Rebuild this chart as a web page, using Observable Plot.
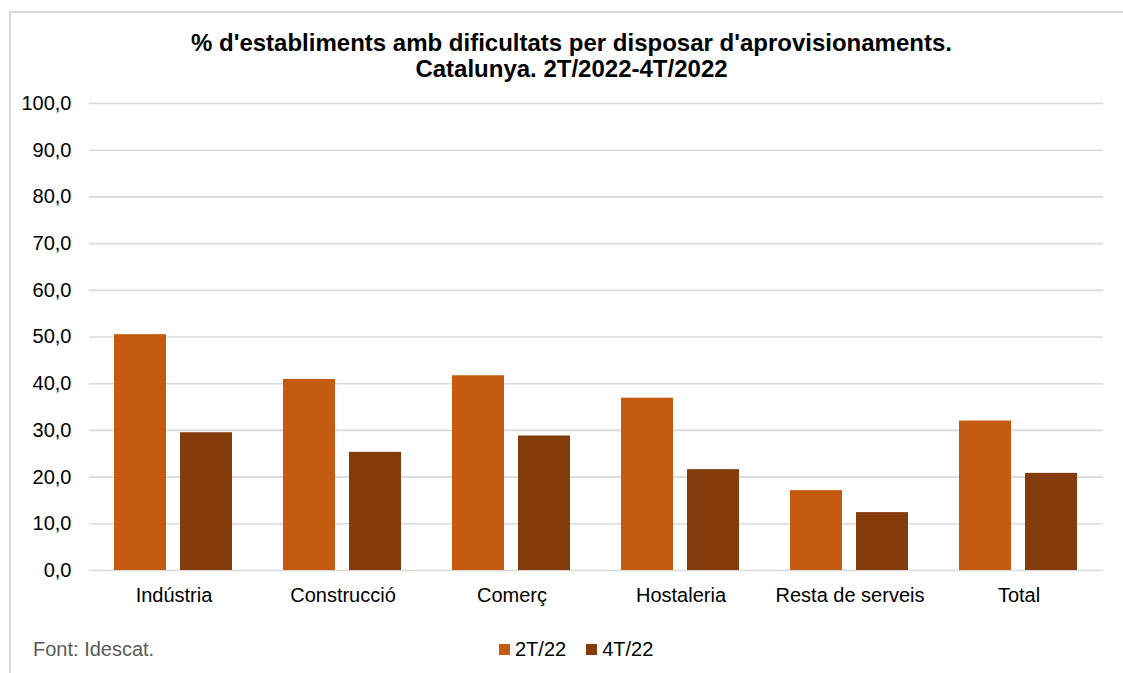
<!DOCTYPE html>
<html>
<head>
<meta charset="utf-8">
<script src="https://cdn.jsdelivr.net/npm/d3@7"></script>
<script src="https://cdn.jsdelivr.net/npm/@observablehq/plot@0.6"></script>
<style>
  html, body { margin: 0; padding: 0; background: #fff; }
  body { width: 1123px; height: 673px; overflow: hidden; position: relative; font-family: "Liberation Sans", Arial, sans-serif; }
  #frame { position: absolute; left: 9px; top: 11px; width: 1130px; height: 680px; border: 2px solid #d9d9d9; box-sizing: border-box; }
  #title { position: absolute; left: 0; width: 1143px; top: 30px; text-align: center; font-weight: bold; font-size: 24px; line-height: 26px; color: #000; }
  #chart { position: absolute; left: -2px; top: 90px; }
  #source { position: absolute; left: 33px; top: 639px; font-size: 20px; line-height: 20px; color: #595959; }
  #legend { position: absolute; left: 499px; top: 639px; font-size: 20px; line-height: 20px; color: #000; display: flex; align-items: center; }
  #legend span.sw { display: inline-block; width: 11px; height: 11px; margin-right: 5px; }
  #legend span.item { display: inline-flex; align-items: center; margin-right: 20px; }
</style>
</head>
<body>
<div id="frame"></div>
<div id="title">% d'establiments amb dificultats per disposar d'aprovisionaments.<br>Catalunya. 2T/2022-4T/2022</div>
<div id="chart"></div>
<div id="source">Font: Idescat.</div>
<div id="legend"></div>
<script>
const categories = ["Indústria", "Construcció", "Comerç", "Hostaleria", "Resta de serveis", "Total"];
const seriesNames = ["2T/22", "4T/22"];
const values2T = [50.5, 40.9, 41.7, 36.9, 17.1, 32.0];
const values4T = [29.5, 25.3, 28.8, 21.6, 12.4, 20.8];
const yTicks = [0, 10, 20, 30, 40, 50, 60, 70, 80, 90, 100];
const colors = ["#C55A11", "#843C0C"];

const data = [];
categories.forEach((c, i) => {
  data.push({category: c, series: seriesNames[0], value: values2T[i]});
  data.push({category: c, series: seriesNames[1], value: values4T[i]});
});

const fmt = d => d.toFixed(1).replace(".", ",");

const chart = Plot.plot({
  width: 1125,
  height: 520,
  marginLeft: 90,
  marginRight: 20,
  marginTop: 13,
  marginBottom: 40,
  style: {fontFamily: "'Liberation Sans', Arial, sans-serif", fontSize: "20px", color: "#000", background: "transparent"},
  fx: {domain: categories, padding: 0, label: null, axis: "bottom", tickSize: 0, tickPadding: 17},
  x: {domain: seriesNames, paddingInner: 0.212, paddingOuter: 0.385, align: 0.5, axis: null},
  y: {domain: [0, 100], ticks: yTicks, tickFormat: fmt, label: null, tickSize: 0, tickPadding: 18},
  color: {domain: seriesNames, range: colors},
  marks: [
    Plot.ruleY(yTicks, {stroke: "#d9d9d9", strokeWidth: 1.6}),
    Plot.barY(data, {fx: "category", x: "series", y: "value", fill: "series"})
  ]
});
document.getElementById("chart").appendChild(chart);

const legend = document.getElementById("legend");
seriesNames.forEach((s, i) => {
  const item = document.createElement("span");
  item.className = "item";
  const sw = document.createElement("span");
  sw.className = "sw";
  sw.style.background = colors[i];
  item.appendChild(sw);
  item.appendChild(document.createTextNode(s));
  legend.appendChild(item);
});
</script>
</body>
</html>
